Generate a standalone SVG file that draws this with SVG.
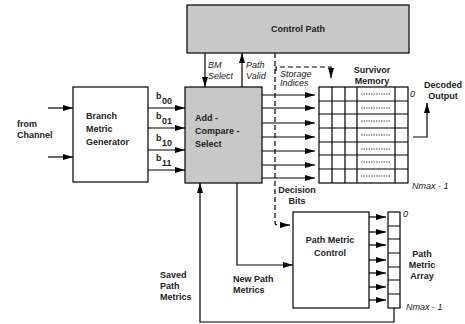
<svg xmlns="http://www.w3.org/2000/svg" width="465" height="324" viewBox="0 0 465 324">
<defs>
<marker id="ah" markerWidth="10" markerHeight="6" refX="10" refY="3" orient="auto" markerUnits="userSpaceOnUse"><path d="M0,0 L10,3 L0,6 Z" fill="#000"/></marker>
</defs>
<style>
.t{font-family:"Liberation Sans",Arial,sans-serif;font-weight:bold;font-size:9px;fill:#222}
.i{font-style:italic;font-weight:normal}
.c{text-anchor:middle}
.box{fill:#fff;stroke:#000;stroke-width:1.2}
.gbox{fill:#c8c8c8;stroke:#000;stroke-width:1.2}
.ln{fill:none;stroke:#000;stroke-width:1.2}
.ar{fill:none;stroke:#000;stroke-width:1.2;marker-end:url(#ah)}
.ds{fill:none;stroke:#000;stroke-width:1.2;stroke-dasharray:5,3}
.dt{fill:none;stroke:#000;stroke-width:0.7;stroke-dasharray:1.5,1}
</style>
<rect width="465" height="324" fill="#fff"/>
<g id="control-path">
<rect class="gbox" x="187" y="5" width="222" height="48"/>
<text class="t c" x="298" y="32" font-size="10">Control Path</text>
</g>
<g id="branch-metric-generator">
<rect class="box" x="73" y="87" width="75" height="95"/>
<text class="t" x="86" y="119">Branch</text>
<text class="t" x="86" y="132">Metric</text>
<text class="t" x="86" y="145">Generator</text>
</g>
<g id="acs">
<rect class="gbox" x="185" y="87" width="77" height="96"/>
<text class="t" x="195" y="121">Add -</text>
<text class="t" x="195" y="134">Compare -</text>
<text class="t" x="195" y="147">Select</text>
</g>
<g id="survivor-memory">
<rect class="box" x="319" y="87" width="89" height="96"/>
<path class="ln" d="M319,101H408M319,114H408M319,128H408M319,142H408M319,155H408M319,169H408M332,87V183M345,87V183M357,87V183M395,87V183"/>
<path class="dt" d="M361,94H391M361,108H391M361,121H391M361,135H391M361,149H391M361,162H391M361,176H391"/>
<text class="t c" x="372" y="73">Survivor</text>
<text class="t c" x="372" y="84">Memory</text>
<text class="t i" x="410" y="97">0</text>
<text class="t i" x="412" y="189" font-size="7">Nmax - 1</text>
</g>
<g id="path-metric-control">
<rect class="box" x="293" y="212" width="76" height="96"/>
<text class="t c" x="330" y="243">Path Metric</text>
<text class="t c" x="330" y="256">Control</text>
</g>
<g id="path-metric-array">
<rect class="box" x="388" y="212" width="12" height="96"/>
<path class="ln" d="M388,226H400M388,239H400M388,253H400M388,267H400M388,280H400M388,294H400"/>
<text class="t i" x="403" y="217">0</text>
<text class="t c" x="422" y="257">Path</text>
<text class="t c" x="422" y="268">Metric</text>
<text class="t c" x="422" y="279">Array</text>
<text class="t i" x="406" y="310" font-size="7">Nmax - 1</text>
</g>
<g id="labels">
<text class="t" x="17" y="127">from</text>
<text class="t" x="17" y="138">Channel</text>
<text class="t" x="156" y="99">b</text><text class="t" x="162" y="104" font-size="7">00</text>
<text class="t" x="156" y="119">b</text><text class="t" x="162" y="124" font-size="7">01</text>
<text class="t" x="156" y="141">b</text><text class="t" x="162" y="146" font-size="7">10</text>
<text class="t" x="156" y="161">b</text><text class="t" x="162" y="166" font-size="7">11</text>
<text class="t i" x="208" y="68">BM</text>
<text class="t i" x="208" y="79">Select</text>
<text class="t i" x="246" y="68">Path</text>
<text class="t i" x="246" y="79">Valid</text>
<text class="t i" x="280" y="77" font-size="7.5">Storage</text>
<text class="t i" x="280" y="86" font-size="7.5">Indices</text>
<text class="t c" x="443" y="88">Decoded</text>
<text class="t c" x="443" y="99">Output</text>
<text class="t c" x="297" y="193">Decision</text>
<text class="t c" x="297" y="204">Bits</text>
<text class="t" x="233" y="282">New Path</text>
<text class="t" x="233" y="293">Metrics</text>
<text class="t" x="160" y="278">Saved</text>
<text class="t" x="160" y="289">Path</text>
<text class="t" x="160" y="300">Metrics</text>
</g>
<g id="connectors">
<path class="ar" d="M48,108H73"/>
<path class="ar" d="M48,157H73"/>
<path class="ar" d="M148,108H185"/>
<path class="ar" d="M148,128H185"/>
<path class="ar" d="M148,150H185"/>
<path class="ar" d="M148,170H185"/>
<path class="ar" d="M205,53V87"/>
<path class="ar" d="M242,87V53"/>
<path class="ar" d="M262,95H315"/>
<path class="ar" d="M262,108H315"/>
<path class="ar" d="M262,123H315"/>
<path class="ar" d="M262,137H315"/>
<path class="ar" d="M262,151H315"/>
<path class="ar" d="M262,165H315"/>
<path class="ar" d="M262,178H315"/>
<path class="ds" d="M275,53V223Q275,225 278,225H283"/>
<path class="ln" d="M283,225H290" marker-end="url(#ah)"/>
<path class="ds" d="M276,71V67H331V70"/>
<path class="ln" d="M331,70V78" marker-end="url(#ah)"/>
<path class="ar" d="M413,137H427V103"/>
<path class="ar" d="M237,183V265H293"/>
<path class="ar" d="M394,308V322H200V183"/>
<path class="ar" d="M369,217H386"/>
<path class="ar" d="M369,232H386"/>
<path class="ar" d="M369,245H386"/>
<path class="ar" d="M369,260H386"/>
<path class="ar" d="M369,273H386"/>
<path class="ar" d="M369,287H386"/>
<path class="ar" d="M369,300H386"/>
</g>
</svg>
